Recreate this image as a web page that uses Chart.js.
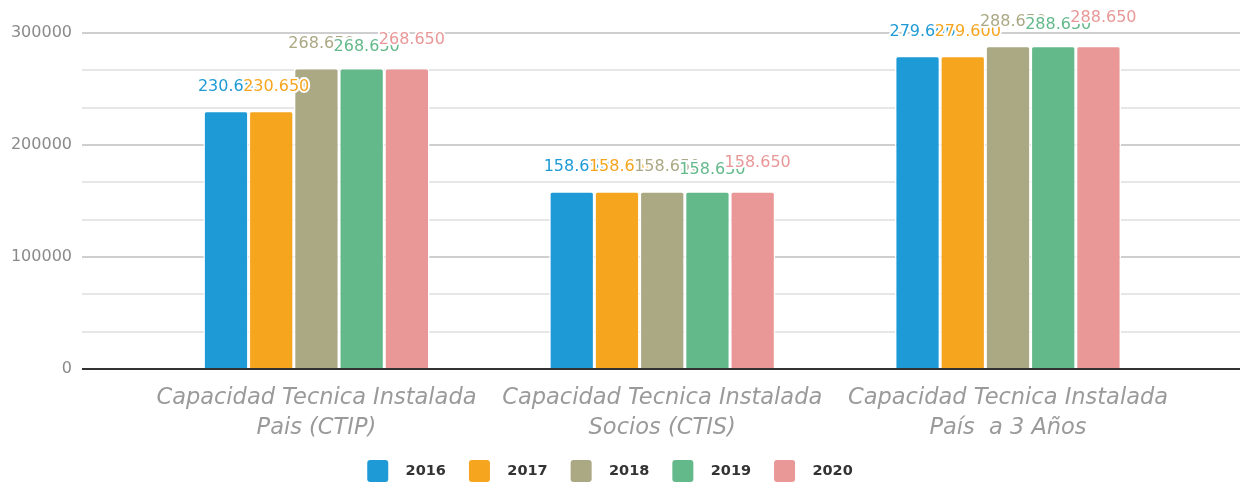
<!DOCTYPE html>
<html><head><meta charset="utf-8">
<script src="https://cdn.jsdelivr.net/npm/chart.js@4.4.1/dist/chart.umd.min.js"></script>
<style>html,body{margin:0;padding:0;background:#fff;overflow:hidden}canvas{display:block}</style>
</head><body>
<canvas id="c" width="1240" height="484"></canvas>
<script>
// ---- data ----
const categories = [
  ['Capacidad Tecnica Instalada', 'Pais (CTIP)'],
  ['Capacidad Tecnica Instalada', 'Socios (CTIS)'],
  ['Capacidad Tecnica Instalada', 'País  a 3 Años']
];
const seriesNames = ['2016', '2017', '2018', '2019', '2020'];
const values2016 = [230650, 158650, 279600];
const values2017 = [230650, 158650, 279600];
const values2018 = [268650, 158650, 288650];
const values2019 = [268650, 158650, 288650];
const values2020 = [268650, 158650, 288650];
const yTickLabels = [0, 100000, 200000, 300000];

// ---- styles ----
const seriesValues = [values2016, values2017, values2018, values2019, values2020];
const colors = ['#1e9ad6', '#f6a51f', '#aba884', '#64b98b', '#e99797'];
const labelLift = [20, 20, 20, 17, 24];
const FONT = '"DejaVu Sans", Verdana, sans-serif';
const legendPad = 23;

function fmt(n) { return String(n).replace(/\B(?=(\d{3})+(?!\d))/g, '.'); }

const valueLabels = {
  id: 'valueLabels',
  afterDatasetsDraw(chart) {
    const ctx = chart.ctx;
    ctx.save();
    ctx.font = '16px ' + FONT;
    ctx.textAlign = 'center';
    ctx.textBaseline = 'alphabetic';
    ctx.lineJoin = 'round';
    ctx.lineWidth = 4;
    ctx.strokeStyle = '#ffffff';
    chart.data.datasets.forEach((ds, i) => {
      const meta = chart.getDatasetMeta(i);
      meta.data.forEach((bar, j) => {
        const t = fmt(ds.data[j].y);
        const x = bar.x + 5, y = bar.y - labelLift[i];
        ctx.strokeText(t, x, y);
        ctx.fillStyle = ds.backgroundColor;
        ctx.fillText(t, x, y);
      });
    });
    ctx.restore();
  }
};

const layoutTweak = {
  id: 'layoutTweak',
  afterLayout(chart) {
    const l = chart.legend;
    l.right -= 20;
    l.top += 8;
    l.bottom += 8;
    chart.scales.x.bottom += 30;
  }
};

const minorStep = 100000 / 3;

new Chart(document.getElementById('c'), {
  type: 'bar',
  data: {
    datasets: seriesNames.map((name, i) => ({
      label: name,
      data: seriesValues[i].map((v, k) => ({ x: k, y: v })),
      backgroundColor: colors[i],
      borderColor: '#ffffff',
      borderWidth: 1.5,
      borderRadius: 3,
      categoryPercentage: 0.654,
      barPercentage: 1
    }))
  },
  options: {
    responsive: false,
    animation: false,
    devicePixelRatio: 1,
    layout: { padding: { top: 33, left: 0, right: 0, bottom: 0 } },
    plugins: {
      tooltip: { enabled: false },
      legend: {
        position: 'bottom',
        labels: {
          boxWidth: 21,
          boxHeight: 22,
          padding: legendPad,
          color: '#333333',
          font: { family: FONT, size: 14.5, weight: 'bold' },
          generateLabels(chart) {
            return chart.data.datasets.map((ds, i) => ({
              text: '  ' + ds.label,
              fillStyle: ds.backgroundColor,
              strokeStyle: ds.backgroundColor,
              lineWidth: 0,
              hidden: false,
              datasetIndex: i,
              borderRadius: 3,
              fontColor: '#333333'
            }));
          }
        }
      }
    },
    scales: {
      x: {
        type: 'linear',
        offset: false,
        min: -0.678,
        max: 2.671,
        grid: { display: false, drawTicks: false, offset: false },
        border: { display: false },
        afterBuildTicks(s) { s.ticks = categories.map((c, i) => ({ value: i })); },
        afterFit(s) { s.height = 83 - legendPad; },
        ticks: {
          autoSkip: false,
          maxRotation: 0,
          minRotation: 0,
          padding: 14,
          color: '#9a9a9a',
          font: { family: FONT, size: 22.5, style: 'italic', lineHeight: 30 / 22.5 },
          callback: (v) => categories[Math.round(v)]
        }
      },
      y: {
        min: 0,
        max: 300000,
        afterBuildTicks(s) {
          const t = [];
          for (let k = 0; k * minorStep <= 300000 + 1; k++) t.push({ value: k * minorStep });
          s.ticks = t;
        },
        afterFit(s) { s.width = 82; },
        border: { display: false },
        grid: {
          drawTicks: false,
          color: (c) => {
            const v = Math.round(c.tick.value);
            if (v === 0) return '#333333';
            return yTickLabels.includes(v) ? '#cfcfcf' : '#e6e6e6';
          },
          lineWidth: (c) => 2
        },
        ticks: {
          padding: 10,
          color: '#8a8a8a',
          font: { family: FONT, size: 16 },
          autoSkip: false,
          callback: (v) => {
            const r = Math.round(v);
            return yTickLabels.includes(r) ? String(r) : '';
          }
        }
      }
    }
  },
  plugins: [valueLabels, layoutTweak]
});
</script>
</body></html>
